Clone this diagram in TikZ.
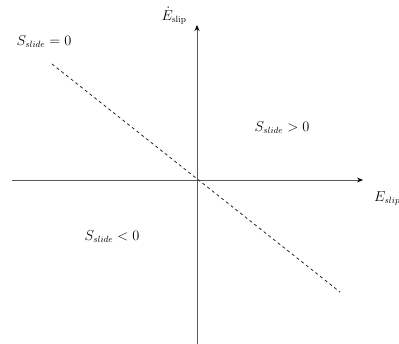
\documentclass[tikz,border=0pt]{standalone}
\usepackage{amsmath, amssymb}
\usepackage{tikz}
\usetikzlibrary{arrows.meta,calc,positioning}

\begin{document}
\begin{tikzpicture}[x=1pt,y=-1pt,
  axis/.style={thick,black!65,-{Stealth[length=6pt,width=5pt,black]}},
  lbl/.style={font=\fontsize{13.5}{16}\selectfont,inner sep=0pt}]
\useasboundingbox (0,0) rectangle (399,344);
% Axes
\coordinate (O) at (197,180);
\coordinate (xl) at (12,180);
\coordinate (xr) at (363,180);
\coordinate (yb) at (197,344);
\coordinate (yt) at (197,25);
\draw[axis] (xl) -- (xr);
\draw[axis] (yb) -- (yt);
\node[lbl,anchor=north west] (xlab) at (374,191) {$E_{slip}$};
\node[lbl] (ylab) at (174,16) {$\dot{E}_{\mathrm{slip}}$};

% Sliding surface
\coordinate (sa) at (52,64);
\coordinate (sb) at (340,292);
\draw[dashed,thick,black!85] (sa) -- (sb);

% Regions
\node[lbl] (szero) at (44,42) {$S_{slide}=0$};
\node[lbl] (spos) at (282,128) {$S_{slide}>0$};
\node[lbl] (sneg) at (112,237) {$S_{slide}<0$};
\end{tikzpicture}
\end{document}
